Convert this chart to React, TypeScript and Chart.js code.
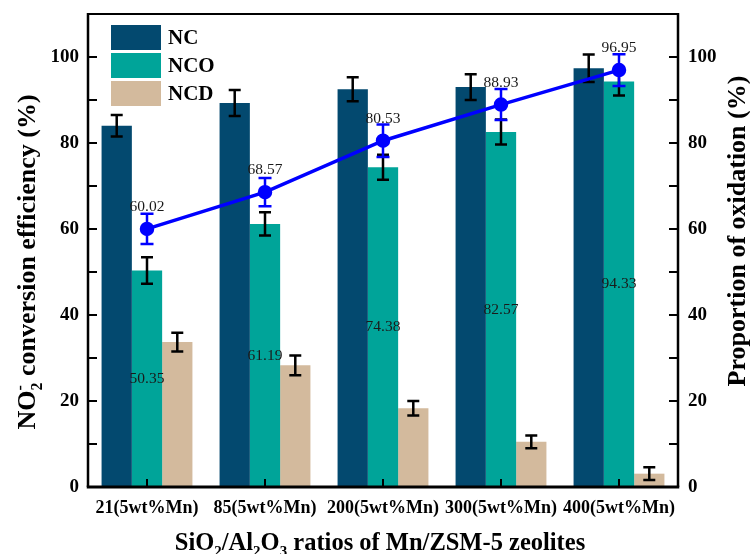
import React, { useEffect, useRef } from "react";
import { Chart, registerables } from "chart.js";

Chart.register(...registerables);

const categories = ["21(5wt%Mn)", "85(5wt%Mn)", "200(5wt%Mn)", "300(5wt%Mn)", "400(5wt%Mn)"];
const ncValues = [84.0, 89.3, 92.5, 93.0, 97.4];
const ncErrors = [2.5, 3.0, 2.8, 3.0, 3.2];
const ncoValues = [50.35, 61.19, 74.38, 82.57, 94.33];
const ncoErrors = [3.1, 2.7, 2.9, 2.9, 3.3];
const ncdValues = [33.7, 28.3, 18.3, 10.5, 3.1];
const ncdErrors = [2.2, 2.3, 1.7, 1.5, 1.5];
const oxidationValues = [60.02, 68.57, 80.53, 88.93, 96.95];
const oxidationErrors = [3.5, 3.3, 3.8, 3.6, 3.7];
const majorTicks = [0, 20, 40, 60, 80, 100];
const minorTicks = [10, 30, 50, 70, 90];
const legendLabels = ["NC", "NCO", "NCD"];

const C_NC = "#03496F";
const C_NCO = "#00A499";
const C_NCD = "#D3BA9D";
const C_LINE = "#0000FF";
const FONT = "'Liberation Serif', 'Times New Roman', serif";

type Seg = { t: string; k: "n" | "sub" | "sup" };

function drawRich(ctx: CanvasRenderingContext2D, segs: Seg[][], size: number) {
  const small = Math.round(size * 0.62);
  const widths = segs.map((g) =>
    Math.max(
      ...g.map((s) => {
        ctx.font = `bold ${s.k === "n" ? size : small}px ${FONT}`;
        return ctx.measureText(s.t).width;
      })
    )
  );
  const total = widths.reduce((a, b) => a + b, 0);
  let x = -total / 2;
  ctx.textAlign = "left";
  ctx.textBaseline = "alphabetic";
  segs.forEach((g, i) => {
    g.forEach((s) => {
      ctx.font = `bold ${s.k === "n" ? size : small}px ${FONT}`;
      const dy = s.k === "sub" ? size * 0.28 : s.k === "sup" ? -size * 0.38 : 0;
      ctx.fillText(s.t, x, size * 0.35 + dy);
    });
    x += widths[i];
  });
}

const decorPlugin = {
  id: "decor",
  afterDatasetDraw(chart: any, args: any) {
    const ctx = chart.ctx as CanvasRenderingContext2D;
    const idx = args.index;
    const meta = args.meta;
    const isLine = idx === 0;
    const yScale = chart.scales[isLine ? "y2" : "y"];
    const errs = [oxidationErrors, ncErrors, ncoErrors, ncdErrors][idx];
    const vals = [oxidationValues, ncValues, ncoValues, ncdValues][idx];
    ctx.save();
    ctx.strokeStyle = isLine ? C_LINE : "#000";
    ctx.lineWidth = 2.5;
    const cap = isLine ? 6.5 : 6;
    meta.data.forEach((el: any, i: number) => {
      const x = el.x;
      const yT = yScale.getPixelForValue(vals[i] + errs[i]);
      const yB = yScale.getPixelForValue(vals[i] - errs[i]);
      ctx.beginPath();
      ctx.moveTo(x, yT);
      ctx.lineTo(x, yB);
      ctx.moveTo(x - cap, yT);
      ctx.lineTo(x + cap, yT);
      ctx.moveTo(x - cap, yB);
      ctx.lineTo(x + cap, yB);
      ctx.stroke();
    });
    ctx.restore();
  },
  afterDatasetsDraw(chart: any) {
    const ctx = chart.ctx as CanvasRenderingContext2D;
    ctx.save();
    ctx.fillStyle = "#1a1a1a";
    ctx.font = `15.5px ${FONT}`;
    ctx.textAlign = "center";
    ctx.textBaseline = "middle";
    const lineMeta = chart.getDatasetMeta(0);
    lineMeta.data.forEach((el: any, i: number) => {
      ctx.fillText(oxidationValues[i].toFixed(2), el.x, el.y - 22);
    });
    const ncoMeta = chart.getDatasetMeta(2);
    ncoMeta.data.forEach((el: any, i: number) => {
      ctx.fillText(ncoValues[i].toFixed(2), el.x, (el.y + el.base) / 2);
    });
    ctx.restore();
  },
  afterDraw(chart: any) {
    const ctx = chart.ctx as CanvasRenderingContext2D;
    const a = chart.chartArea;
    const y = chart.scales.y;
    const x = chart.scales.x;
    ctx.save();
    ctx.strokeStyle = "#000";
    ctx.lineWidth = 2;
    const tl = 9;
    [...majorTicks, ...minorTicks].forEach((v) => {
      const py = Math.round(y.getPixelForValue(v));
      ctx.beginPath();
      ctx.moveTo(a.left, py);
      ctx.lineTo(a.left + tl, py);
      ctx.moveTo(a.right, py);
      ctx.lineTo(a.right - tl, py);
      ctx.stroke();
    });
    categories.forEach((_, i) => {
      const px = x.getPixelForValue(i);
      ctx.beginPath();
      ctx.moveTo(px, a.bottom);
      ctx.lineTo(px, a.bottom - 8);
      ctx.stroke();
    });
    ctx.lineWidth = 2;
    ctx.beginPath();
    ctx.moveTo(a.left, a.top);
    ctx.lineTo(a.right, a.top);
    ctx.stroke();
    ctx.lineWidth = 2.5;
    ctx.beginPath();
    ctx.moveTo(a.left, a.top - 1);
    ctx.lineTo(a.left, a.bottom);
    ctx.moveTo(a.right, a.top - 1);
    ctx.lineTo(a.right, a.bottom);
    ctx.stroke();
    ctx.lineWidth = 3;
    ctx.beginPath();
    ctx.moveTo(a.left - 1.25, a.bottom);
    ctx.lineTo(a.right + 1.25, a.bottom);
    ctx.stroke();

    const colors = [C_NC, C_NCO, C_NCD];
    ctx.font = `bold 21px ${FONT}`;
    ctx.textAlign = "left";
    ctx.textBaseline = "middle";
    legendLabels.forEach((lab, i) => {
      const top = 25 + i * 28;
      ctx.fillStyle = colors[i];
      ctx.fillRect(111, top, 50, 25);
      ctx.fillStyle = "#000";
      ctx.fillText(lab, 168, top + 13.5);
    });

    ctx.fillStyle = "#000";
    ctx.save();
    ctx.translate(26, 262);
    ctx.rotate(-Math.PI / 2);
    drawRich(
      ctx,
      [
        [{ t: "NO", k: "n" }],
        [
          { t: "2", k: "sub" },
          { t: "-", k: "sup" },
        ],
        [{ t: " conversion efficiency (%)", k: "n" }],
      ],
      26
    );
    ctx.restore();
    ctx.save();
    ctx.translate(736, 231);
    ctx.rotate(-Math.PI / 2);
    drawRich(ctx, [[{ t: "Proportion of oxidation (%)", k: "n" }]], 26);
    ctx.restore();
    ctx.save();
    ctx.translate(380, 541);
    drawRich(
      ctx,
      [
        [{ t: "SiO", k: "n" }],
        [{ t: "2", k: "sub" }],
        [{ t: "/Al", k: "n" }],
        [{ t: "2", k: "sub" }],
        [{ t: "O", k: "n" }],
        [{ t: "3", k: "sub" }],
        [{ t: " ratios of Mn/ZSM-5 zeolites", k: "n" }],
      ],
      24.5
    );
    ctx.restore();
    ctx.restore();
  },
};

export default function App() {
  const ref = useRef<HTMLCanvasElement | null>(null);
  useEffect(() => {
    document.body.style.margin = "0";
    const canvas = ref.current;
    if (!canvas) return;
    const tickFont = { family: FONT, size: 19, weight: "bold" as const };
    const fitV = (w: number) => (s: any) => {
      s.width = w;
      s.paddingTop = 0;
      s.paddingBottom = 0;
    };
    const chart = new Chart(canvas, {
      type: "bar",
      data: {
        labels: categories,
        datasets: [
          {
            type: "line" as const,
            label: "Proportion of oxidation",
            data: oxidationValues,
            yAxisID: "y2",
            borderColor: C_LINE,
            backgroundColor: C_LINE,
            borderWidth: 3.5,
            pointRadius: 5.5,
            pointBackgroundColor: C_LINE,
            pointBorderColor: C_LINE,
            order: 0,
          },
          {
            label: "NC",
            data: ncValues,
            backgroundColor: C_NC,
            yAxisID: "y",
            categoryPercentage: 0.77,
            barPercentage: 1,
            order: 1,
          },
          {
            label: "NCO",
            data: ncoValues,
            backgroundColor: C_NCO,
            yAxisID: "y",
            categoryPercentage: 0.77,
            barPercentage: 1,
            order: 2,
          },
          {
            label: "NCD",
            data: ncdValues,
            backgroundColor: C_NCD,
            yAxisID: "y",
            categoryPercentage: 0.77,
            barPercentage: 1,
            order: 3,
          },
        ] as any,
      },
      options: {
        responsive: false,
        animation: false,
        devicePixelRatio: 1,
        layout: { padding: { top: 14, left: 0, right: 0, bottom: 0 } },
        plugins: { legend: { display: false }, tooltip: { enabled: false } },
        scales: {
          x: {
            type: "category",
            offset: true,
            grid: { display: false, drawTicks: false },
            border: { display: false },
            ticks: { font: { family: FONT, size: 18, weight: "bold" }, color: "#000", padding: 11, maxRotation: 0 },
            afterFit: (s: any) => {
              s.height = 67;
              s.paddingLeft = 0;
              s.paddingRight = 0;
            },
          },
          y: {
            position: "left",
            min: 0,
            max: 110,
            grid: { display: false, drawTicks: false },
            border: { display: false },
            ticks: { font: tickFont, color: "#000", padding: 9 },
            afterBuildTicks: (s: any) => {
              s.ticks = majorTicks.map((v) => ({ value: v }));
            },
            afterFit: fitV(88),
          },
          y2: {
            position: "right",
            min: 0,
            max: 110,
            grid: { display: false, drawTicks: false },
            border: { display: false },
            ticks: { font: tickFont, color: "#000", padding: 10 },
            afterBuildTicks: (s: any) => {
              s.ticks = majorTicks.map((v) => ({ value: v }));
            },
            afterFit: fitV(72),
          },
        },
      } as any,
      plugins: [decorPlugin],
    });
    return () => chart.destroy();
  }, []);
  return (
    <div style={{ width: 750, height: 554 }}>
      <canvas ref={ref} width={750} height={554} style={{ display: "block" }} />
    </div>
  );
}
